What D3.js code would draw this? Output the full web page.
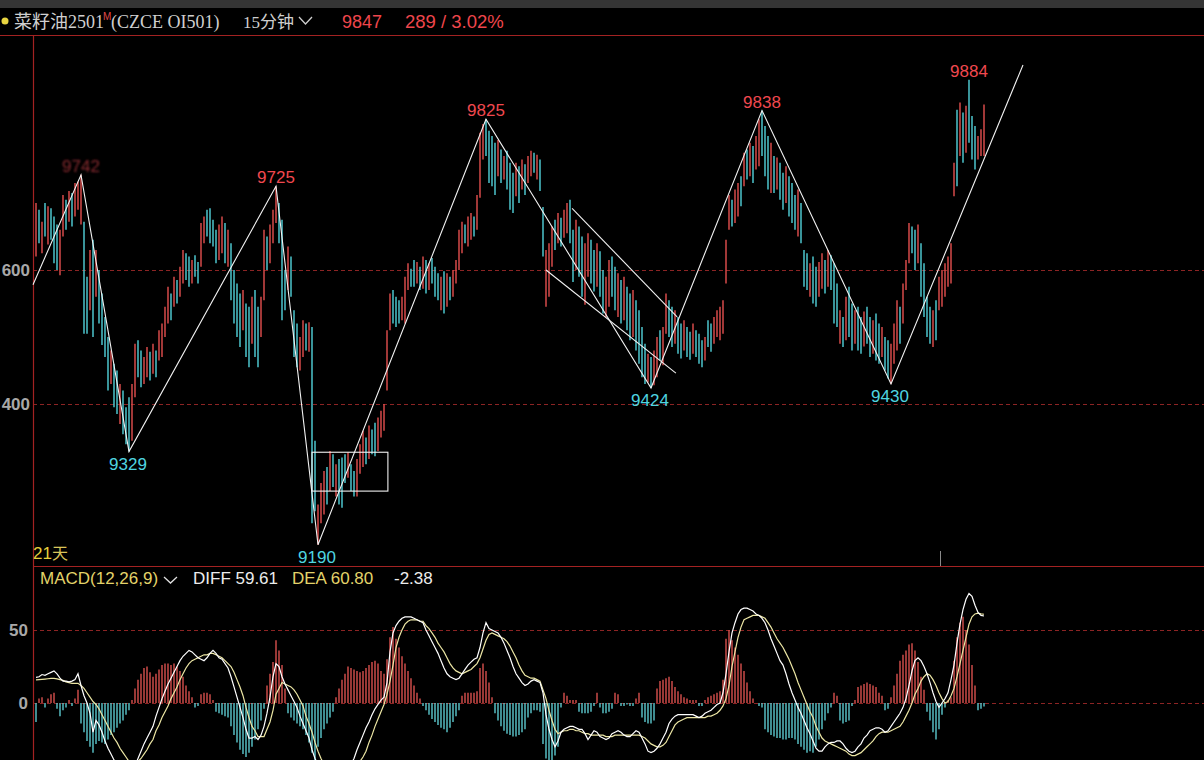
<!DOCTYPE html>
<html>
<head>
<meta charset="utf-8">
<script src="https://cdnjs.cloudflare.com/ajax/libs/d3/7.8.5/d3.min.js"></script>
<style>
  html, body { margin: 0; padding: 0; background: #000; overflow: hidden; }
  svg { display: block; }
</style>
</head>
<body>
<div id="chart"></div>
<script>
// 15-minute bars, OI501 (one bar per index)
var opens = [
  9620, 9690, 9625, 9700, 9638, 9692, 9680, 9668, 9592, 9650,
  9705, 9672, 9715, 9680, 9690, 9668, 9672, 9590, 9540, 9645,
  9560, 9600, 9565, 9530, 9500, 9430, 9460, 9450, 9370, 9420,
  9395, 9410, 9345, 9410, 9495, 9480, 9430, 9440, 9478, 9445,
  9480, 9465, 9470, 9500, 9520, 9565, 9545, 9585, 9560, 9580,
  9625, 9620, 9580, 9622, 9612, 9605, 9640, 9690, 9692, 9675,
  9660, 9615, 9625, 9670, 9605, 9640, 9600, 9580, 9565, 9510,
  9550, 9545, 9490, 9570, 9545, 9500, 9555, 9650, 9610, 9640,
  9670, 9700, 9675, 9600, 9570, 9620, 9540, 9520, 9450, 9470,
  9520, 9478, 9515, 9345, 9190, 9222, 9235, 9306, 9270, 9325,
  9262, 9318, 9320, 9325, 9290, 9310, 9300, 9262, 9296, 9306,
  9350, 9318, 9362, 9372, 9330, 9350, 9360, 9420, 9510, 9570,
  9560, 9555, 9525, 9520, 9570, 9602, 9615, 9580, 9605, 9572,
  9615, 9570, 9618, 9605, 9595, 9540, 9598, 9545, 9590, 9560,
  9580, 9600, 9625, 9668, 9635, 9645, 9680, 9660, 9708, 9765,
  9825, 9808, 9800, 9790, 9740, 9780, 9735, 9778, 9760, 9745,
  9710, 9755, 9720, 9758, 9730, 9740, 9775, 9735, 9765, 9694,
  9545, 9560, 9605, 9675, 9640, 9678, 9648, 9655, 9705, 9660,
  9600, 9665, 9650, 9548, 9590, 9645, 9630, 9575, 9628, 9600,
  9530, 9545, 9620, 9605, 9530, 9585, 9525, 9575, 9565, 9500,
  9555, 9540, 9515, 9490, 9432, 9470, 9428, 9440, 9510, 9458,
  9505, 9555, 9545, 9490, 9530, 9520, 9480, 9515, 9508, 9475,
  9510, 9505, 9495, 9465, 9525, 9520, 9490, 9500, 9495, 9505,
  9580, 9660, 9705, 9670, 9680, 9740, 9725, 9780, 9740, 9785,
  9750, 9755, 9838, 9815, 9800, 9715, 9770, 9720, 9760, 9745,
  9700, 9740, 9730, 9712, 9650, 9700, 9630, 9625, 9560, 9620,
  9605, 9560, 9572, 9615, 9575, 9622, 9610, 9580, 9490, 9530,
  9495, 9575, 9550, 9490, 9545, 9530, 9486, 9545, 9530, 9475,
  9535, 9520, 9470, 9500, 9495, 9430, 9460, 9480, 9545, 9520,
  9570, 9610, 9665, 9660, 9610, 9640, 9610, 9560, 9545, 9485,
  9555, 9540, 9545, 9560, 9575, 9580, 9710, 9839, 9770, 9835,
  9775, 9884, 9830, 9815, 9765, 9770, 9770
]
var closes = [
  9700, 9640, 9672, 9650, 9695, 9645, 9610, 9600, 9660, 9712,
  9660, 9718, 9665, 9730, 9732, 9742, 9505, 9505, 9630, 9500,
  9630, 9520, 9488, 9470, 9420, 9480, 9395, 9385, 9430, 9355,
  9340, 9329, 9430, 9490, 9440, 9425, 9470, 9485, 9435, 9490,
  9440, 9510, 9520, 9545, 9575, 9525, 9590, 9550, 9605, 9630,
  9585, 9575, 9615, 9590, 9580, 9670, 9680, 9650, 9640, 9635,
  9610, 9668, 9680, 9610, 9660, 9555, 9520, 9500, 9485, 9570,
  9470, 9455, 9560, 9470, 9455, 9560, 9660, 9600, 9668, 9690,
  9725, 9640, 9525, 9540, 9635, 9560, 9470, 9455, 9500, 9525,
  9480, 9522, 9222, 9240, 9250, 9282, 9300, 9250, 9330, 9276,
  9310, 9250, 9245, 9282, 9328, 9270, 9262, 9318, 9340, 9360,
  9310, 9368, 9325, 9322, 9380, 9390, 9400, 9510, 9565, 9520,
  9515, 9520, 9560, 9590, 9610, 9575, 9575, 9612, 9570, 9620,
  9565, 9610, 9580, 9560, 9555, 9590, 9535, 9595, 9555, 9600,
  9615, 9660, 9672, 9640, 9680, 9685, 9650, 9712, 9805, 9818,
  9770, 9730, 9725, 9712, 9794, 9730, 9770, 9720, 9690, 9685,
  9760, 9700, 9765, 9712, 9770, 9778, 9745, 9772, 9718, 9620,
  9630, 9640, 9665, 9630, 9685, 9635, 9690, 9700, 9640, 9582,
  9675, 9590, 9560, 9640, 9655, 9580, 9568, 9640, 9560, 9535,
  9590, 9615, 9560, 9540, 9595, 9520, 9590, 9510, 9495, 9570,
  9480, 9460, 9440, 9430, 9475, 9424, 9480, 9500, 9465, 9515,
  9565, 9500, 9485, 9540, 9475, 9468, 9525, 9470, 9466, 9520,
  9470, 9460, 9455, 9500, 9485, 9478, 9530, 9540, 9545, 9555,
  9645, 9712, 9665, 9720, 9730, 9695, 9775, 9735, 9790, 9730,
  9800, 9825, 9770, 9740, 9720, 9790, 9715, 9768, 9705, 9690,
  9755, 9680, 9670, 9660, 9720, 9640, 9575, 9570, 9610, 9550,
  9545, 9612, 9625, 9565, 9630, 9570, 9520, 9515, 9540, 9485,
  9560, 9500, 9480, 9540, 9480, 9475, 9538, 9490, 9470, 9525,
  9465, 9460, 9515, 9450, 9438, 9490, 9520, 9555, 9490, 9580,
  9615, 9670, 9625, 9600, 9668, 9560, 9530, 9500, 9490, 9540,
  9495, 9590, 9600, 9610, 9620, 9640, 9760, 9725, 9850, 9760,
  9845, 9790, 9765, 9750, 9800, 9810, 9847
]

// MACD(12,26,9)
var diff = [
  17.5, 18, 19.5, 19, 20, 21, 22, 20, 17, 15,
  15, 14.5, 15, 16, 20, 12, 5, 0, -7, -20,
  -12, -15, -20, -26, -31, -35, -39, -42, -45, -47,
  -48, -48, -46, -43, -38, -33, -28, -24, -20, -16,
  -9, -3, 3, 8, 13, 17, 21, 25, 29, 32,
  34, 36, 35, 33, 31, 30, 29, 31, 34, 36,
  34, 31, 30, 27, 24, 18, 11, 4, -3, -10,
  -18, -24, -24, -23, -25, -22, -16, -7, 4, 18,
  27, 25, 18, 13, 9, 5, 1, -3, -9, -14,
  -19, -24, -32, -38, -42, -46, -49, -51, -53, -54,
  -54, -53, -51, -49, -46, -42, -38, -32, -27, -22,
  -17, -13, -8, -4, -1, 2, 4, 14, 35, 48,
  53, 56, 58, 59, 59, 59, 58, 57, 56, 55,
  50, 46, 42, 38, 34, 29, 24, 20, 18, 17,
  16, 17, 20, 23, 26, 28, 30, 31, 38, 48,
  55, 51, 50, 49, 48, 45, 41, 36, 31, 25,
  20, 17, 14, 12, 13, 15, 16, 15, 14, 7,
  -8, -18, -25, -30, -26, -20, -18, -17, -16, -16,
  -17, -18, -18, -21, -25, -22, -19, -20, -23, -24,
  -25, -24, -21, -20, -19, -20, -22, -23, -23, -21,
  -19, -20, -24, -28, -33, -34, -33, -31, -28, -24,
  -20, -14, -11, -9, -8, -8, -8, -8, -8, -8,
  -9, -10, -9, -7, -6, -5, -3, -1, 0, 7,
  20, 35, 48, 55, 61, 64, 65, 65, 64, 63,
  61, 60, 58, 55, 50, 44, 39, 34, 29, 26,
  20, 13, 7, 2, -3, -7, -12, -17, -21, -26,
  -31, -33, -33, -30, -28, -27, -27, -26, -26, -28,
  -31, -33, -34, -33, -30, -28, -24, -22, -19, -18,
  -17, -17, -18, -20, -19, -16, -13, -10, -7, -3,
  3, 12, 22, 29, 31, 29, 25, 20, 14, 7,
  1, -3, 0, 3, 7, 16, 26, 41, 54, 64,
  71, 75, 73, 67, 62, 60, 59.61
]
var dea = [
  15.8, 16, 16.2, 16.4, 16.6, 16.8, 16.8, 16.5, 16, 15.5,
  14.5, 14, 13.5, 13.5, 13.5, 12, 10, 7, 4, 1,
  -1, -4, -8, -12, -16, -20, -24, -27, -31, -34,
  -37, -40, -41, -41, -40, -38, -35, -32, -28, -25,
  -19, -15, -10, -6, -2, 3, 7, 11, 16, 20,
  24, 27, 29, 30, 31, 32, 33, 33, 34, 34,
  33, 32, 31, 29, 27, 25, 21, 16, 11, 5,
  -3, -10, -16, -19, -23, -23, -23, -18, -13, -5,
  6, 10, 14, 13, 12, 11, 9, 6, 2, -2,
  -9, -14, -20, -27, -33, -38, -42, -45, -47, -49,
  -50, -50, -50, -49, -48, -47, -45, -43, -40, -37,
  -33, -27, -22, -16, -11, -6, -1, 6, 15, 26,
  38, 45, 50, 54, 56, 57, 57, 57, 56, 56,
  53, 51, 48, 45, 41, 38, 35, 31, 27, 24,
  22, 21, 20, 21, 22, 23, 25, 27, 31, 37,
  43, 47, 48, 47, 46, 45, 44, 42, 39, 35,
  31, 26, 22, 19, 18, 17, 17, 16, 15, 9,
  3, -5, -12, -18, -21, -20, -19, -19, -18, -18,
  -19, -19, -20, -21, -21, -22, -22, -22, -22, -22,
  -23, -23, -23, -22, -22, -22, -22, -22, -22, -22,
  -22, -22, -23, -24, -26, -28, -29, -30, -30, -29,
  -27, -23, -19, -15, -13, -12, -11, -10, -10, -10,
  -10, -10, -10, -10, -9, -9, -8, -7, -5, -2,
  3, 12, 25, 35, 45, 52, 57, 58, 59, 60,
  60, 60, 59, 58, 55, 52, 48, 44, 41, 38,
  34, 30, 25, 20, 14, 9, 4, -1, -6, -10,
  -16, -20, -24, -26, -27, -28, -29, -30, -31, -32,
  -33, -35, -36, -36, -35, -34, -32, -30, -28, -26,
  -23, -21, -20, -20, -20, -19, -18, -17, -16, -13,
  -9, -5, 0, 6, 10, 15, 18, 20, 19, 16,
  12, 7, 3, 0, 1, 5, 10, 18, 27, 36,
  45, 54, 59, 61, 61.5, 61, 60.8
]
var macdBars = [
  -13, 3, 4, -3, 3, 6, 7, -4, -9, -5,
  -3, 2, -2, 3, 9, -14, -20, -26, -30, -34,
  -28, -26, -27, -28, -25, -22, -20, -17, -14, -12,
  -8, -5, 2, 10, 16, 20, 24, 25, 21, 18,
  20, 23, 26, 27, 27, 26, 27, 25, 22, 18,
  12, 8, 4, -3, -2, 6, 7, 7, 6, 2,
  -6, -7, -8, -9, -10, -16, -22, -27, -32, -35,
  -37, -34, -30, -25, -18, -12, -4, 12, 20, 28,
  43, 36, 26, 10, -7, -10, -12, -14, -16, -18,
  -22, -27, -34, -39, -30, -24, -18, -14, -10, -6,
  4, 10, 16, 20, 25, 24, 23, 22, 21, 22,
  24, 26, 28, 29, 27, 22, 20, 30, 45, 52,
  44, 38, 32, 27, 22, 17, 12, 7, 3, -2,
  -5, -8, -11, -13, -15, -17, -18, -20, -17, -13,
  -9, -5, 5, 7, 7, 7, 7, 8, 24, 27,
  22, 14, 4, -7, -12, -16, -19, -21, -22, -23,
  -23, -22, -20, -18, -10, -7, -5, -5, -6, -28,
  -38, -42, -40, -36, -30, -3, 7, 5, 2, 2,
  2, -6, -7, -7, -7, -6, -2, 7, -3, -7,
  -7, -6, -4, 7, 6, -2, -2, -1, -2, -2,
  3, 7, -10, -13, -14, -14, -12, 10, 15, 16,
  17, 18, 15, 11, 8, 6, 4, 3, 2, 2,
  2, -2, -2, 2, 4, 5, 6, 7, 8, 16,
  44, 50, 43, 38, 33, 27, 22, 14, 8, 3,
  0, -2, -3, -18, -20, -22, -23, -24, -24, -25,
  -25, -24, -24, -25, -28, -30, -32, -34, -33, -34,
  -30, -25, -18, -12, -7, -3, 7, 5, -12, -14,
  -13, -12, -2, 2, 11, 12, 13, 14, 13, 12,
  11, 7, 5, -5, -4, 4, 12, 20, 29, 33,
  36, 40, 41, 36, 28, 18, 9, -6, -12, -20,
  -25, -18, -8, -3, 2, 4, 29, 45, 55, 59,
  50, 40, 26, 12, -5, -4, -2.38
]

var priceTicks = [9400, 9600]
var macdTicks = [0, 50]

// hand-drawn wave lines, in (bar index, price)
var zigzagIdx = [-1, 15, 31, 80, 94, 150, 205, 242, 285, 329]
var zigzagPrice = [9578, 9742, 9329, 9725, 9190, 9825, 9424, 9838, 9430, 9906]
var channelIdx = [[178.7, 213.7], [170, 213.3]]
var channelPrice = [[9692, 9530], [9600, 9446]]
var boxIdx = [92, 117.3]
var boxPrice = [9328, 9270]

var peakIdx = [15, 80, 150, 242, 311]
var peakVal = [9742, 9725, 9825, 9838, 9884]
var troughIdx = [31, 94, 205, 285]
var troughVal = [9329, 9190, 9424, 9430]

var width = 1204
var height = 760
var upColor = '#e5504f'
var downColor = '#52d3dc'
var gridColor = '#8c2424'
var frameColor = '#a32222'
var numFont = '"Liberation Sans", Arial, sans-serif'

var svg = d3.select('#chart')
  .append('svg')
  .attr('width', width)
  .attr('height', height)

svg.append('rect').attr('width', width).attr('height', height).attr('fill', '#000')

var defs = svg.append('defs')
defs.append('filter').attr('id', 'smudge')
  .append('feGaussianBlur').attr('stdDeviation', 1.3)

var x = d3.scaleLinear().domain([0, closes.length - 1]).range([36, 984])
var y = d3.scaleLinear().domain([9400, 9600]).range([404, 270])
var m = d3.scaleLinear().domain([0, 50]).range([703, 630])

// grid + tick labels
function styleAxis (g) {
  g.select('.domain').remove()
  g.selectAll('line')
    .attr('stroke', gridColor)
    .attr('stroke-dasharray', '4,3')
  g.selectAll('text')
    .attr('fill', '#a8a8a8')
    .attr('font-size', 17)
    .attr('font-weight', 'bold')
    .attr('font-family', numFont)
}

// the price scale is scrolled so that only the last three digits show
svg.append('g')
  .attr('transform', 'translate(33,0)')
  .call(d3.axisLeft(y).tickValues(priceTicks).tickSize(-(width - 33)).tickPadding(3)
    .tickFormat(function (d) { return String(d).slice(1) }))
  .call(styleAxis)

svg.append('g')
  .attr('transform', 'translate(33,0)')
  .call(d3.axisLeft(m).tickValues(macdTicks).tickSize(-(width - 33)).tickPadding(5).tickFormat(d3.format('d')))
  .call(styleAxis)

// frame
svg.append('rect').attr('x', 0).attr('y', 0).attr('width', width).attr('height', 8).attr('fill', '#353535')
svg.append('line').attr('x1', 0).attr('x2', width).attr('y1', 35.5).attr('y2', 35.5)
  .attr('stroke', frameColor).attr('stroke-width', 1.2)
svg.append('line').attr('x1', 33).attr('x2', width).attr('y1', 566.5).attr('y2', 566.5)
  .attr('stroke', frameColor).attr('stroke-width', 1.2)
svg.append('line').attr('x1', 33.5).attr('x2', 33.5).attr('y1', 36).attr('y2', height)
  .attr('stroke', frameColor).attr('stroke-width', 1.2)
svg.append('line').attr('x1', 940.5).attr('x2', 940.5).attr('y1', 551).attr('y2', 566)
  .attr('stroke', '#8a8a8a')

// candles (thin bars, body only at this density)
svg.append('g')
  .selectAll('line')
  .data(closes)
  .join('line')
  .attr('x1', function (d, i) { return x(i) })
  .attr('x2', function (d, i) { return x(i) })
  .attr('y1', function (d, i) { return y(opens[i]) })
  .attr('y2', function (d) { return y(d) })
  .attr('stroke', function (d, i) { return d >= opens[i] ? upColor : downColor })
  .attr('stroke-width', 1.4)

// wave lines
var priceLine = d3.line()
  .x(function (d) { return x(d[0]) })
  .y(function (d) { return y(d[1]) })

svg.append('path')
  .attr('d', priceLine(zigzagIdx.map(function (d, i) { return [d, zigzagPrice[i]] })))
  .attr('fill', 'none')
  .attr('stroke', '#f2f2f2')
  .attr('stroke-width', 1.1)

channelIdx.forEach(function (pair, k) {
  svg.append('path')
    .attr('d', priceLine(pair.map(function (d, i) { return [d, channelPrice[k][i]] })))
    .attr('fill', 'none')
    .attr('stroke', '#f2f2f2')
    .attr('stroke-width', 1.1)
})

svg.append('rect')
  .attr('x', x(boxIdx[0]))
  .attr('y', y(boxPrice[0]))
  .attr('width', x(boxIdx[1]) - x(boxIdx[0]))
  .attr('height', y(boxPrice[1]) - y(boxPrice[0]))
  .attr('fill', 'none')
  .attr('stroke', '#f2f2f2')
  .attr('stroke-width', 1.1)

// pivot labels
svg.append('g')
  .selectAll('text')
  .data(peakVal)
  .join('text')
  .attr('x', function (d, i) { return x(peakIdx[i]) })
  .attr('y', function (d) { return y(d) - 3 })
  .attr('text-anchor', 'middle')
  .attr('font-family', numFont)
  .attr('font-size', 17)
  .attr('fill', function (d, i) { return i === 0 ? '#8a2c30' : '#f0484f' })
  .attr('filter', function (d, i) { return i === 0 ? 'url(#smudge)' : null })
  .text(function (d) { return d })

svg.append('g')
  .selectAll('text')
  .data(troughVal)
  .join('text')
  .attr('x', function (d, i) { return x(troughIdx[i]) - 1 })
  .attr('y', function (d) { return y(d) + 18 })
  .attr('text-anchor', 'middle')
  .attr('font-family', numFont)
  .attr('font-size', 17)
  .attr('fill', '#4fd5e0')
  .text(function (d) { return d })

// MACD histogram
svg.append('g')
  .selectAll('line')
  .data(macdBars)
  .join('line')
  .attr('x1', function (d, i) { return x(i) })
  .attr('x2', function (d, i) { return x(i) })
  .attr('y1', m(0))
  .attr('y2', function (d) { return m(d) })
  .attr('stroke', function (d) { return d >= 0 ? '#d9514e' : '#5cc9cf' })
  .attr('stroke-width', 1.4)

var macdLine = d3.line()
  .x(function (d, i) { return x(i) })
  .y(function (d) { return m(d) })

svg.append('path').attr('d', macdLine(dea))
  .attr('fill', 'none').attr('stroke', '#ece6a4').attr('stroke-width', 1.2)
svg.append('path').attr('d', macdLine(diff))
  .attr('fill', 'none').attr('stroke', '#ffffff').attr('stroke-width', 1.2)

// header
svg.append('circle').attr('cx', 5).attr('cy', 21).attr('r', 3.5).attr('fill', '#e8d541')
svg.append('text').attr('x', 14).attr('y', 28)
  .attr('font-family', '"Liberation Serif", "Noto Sans CJK SC", serif')
  .attr('font-size', 18).attr('fill', '#cfcfcf')
  .text('菜籽油2501')
svg.append('text').attr('x', 103).attr('y', 20)
  .attr('font-family', numFont).attr('font-size', 10).attr('fill', '#e04848')
  .text('M')
svg.append('text').attr('x', 111).attr('y', 28)
  .attr('font-family', '"Liberation Serif", serif')
  .attr('font-size', 18).attr('fill', '#cfcfcf')
  .text('(CZCE OI501)')
svg.append('text').attr('x', 243).attr('y', 28)
  .attr('font-family', '"Liberation Serif", "Noto Sans CJK SC", serif')
  .attr('font-size', 17).attr('fill', '#cfcfcf')
  .text('15分钟')
svg.append('path').attr('d', 'M299,17 L305.5,24 L312,17')
  .attr('fill', 'none').attr('stroke', '#cfcfcf').attr('stroke-width', 1.3)
svg.append('text').attr('x', 342).attr('y', 28)
  .attr('font-family', numFont).attr('font-size', 18).attr('fill', '#ef464c')
  .text('9847')
svg.append('text').attr('x', 405).attr('y', 28)
  .attr('font-family', numFont).attr('font-size', 18.5).attr('fill', '#ef464c')
  .text('289 / 3.02%')

// period tag
svg.append('text').attr('x', 33).attr('y', 559)
  .attr('font-family', numFont).attr('font-size', 17).attr('fill', '#e6cf3c')
  .text('21')
svg.append('text').attr('x', 52).attr('y', 559)
  .attr('font-family', '"Noto Sans CJK SC", sans-serif').attr('font-size', 16).attr('fill', '#d9c55a')
  .text('天')

// MACD legend
svg.append('text').attr('x', 40).attr('y', 584)
  .attr('font-family', numFont).attr('font-size', 17).attr('fill', '#e3d36a')
  .text('MACD(12,26,9)')
svg.append('path').attr('d', 'M164,577 L170.5,583 L177,577')
  .attr('fill', 'none').attr('stroke', '#e0e0e0').attr('stroke-width', 1.3)
svg.append('text').attr('x', 193).attr('y', 584)
  .attr('font-family', numFont).attr('font-size', 17).attr('fill', '#ececec')
  .text('DIFF ' + diff[diff.length - 1].toFixed(2))
svg.append('text').attr('x', 292).attr('y', 584)
  .attr('font-family', numFont).attr('font-size', 17).attr('fill', '#e3d36a')
  .text('DEA ' + dea[dea.length - 1].toFixed(2))
svg.append('text').attr('x', 394).attr('y', 584)
  .attr('font-family', numFont).attr('font-size', 17).attr('fill', '#ececec')
  .text(macdBars[macdBars.length - 1].toFixed(2))
</script>
</body>
</html>
